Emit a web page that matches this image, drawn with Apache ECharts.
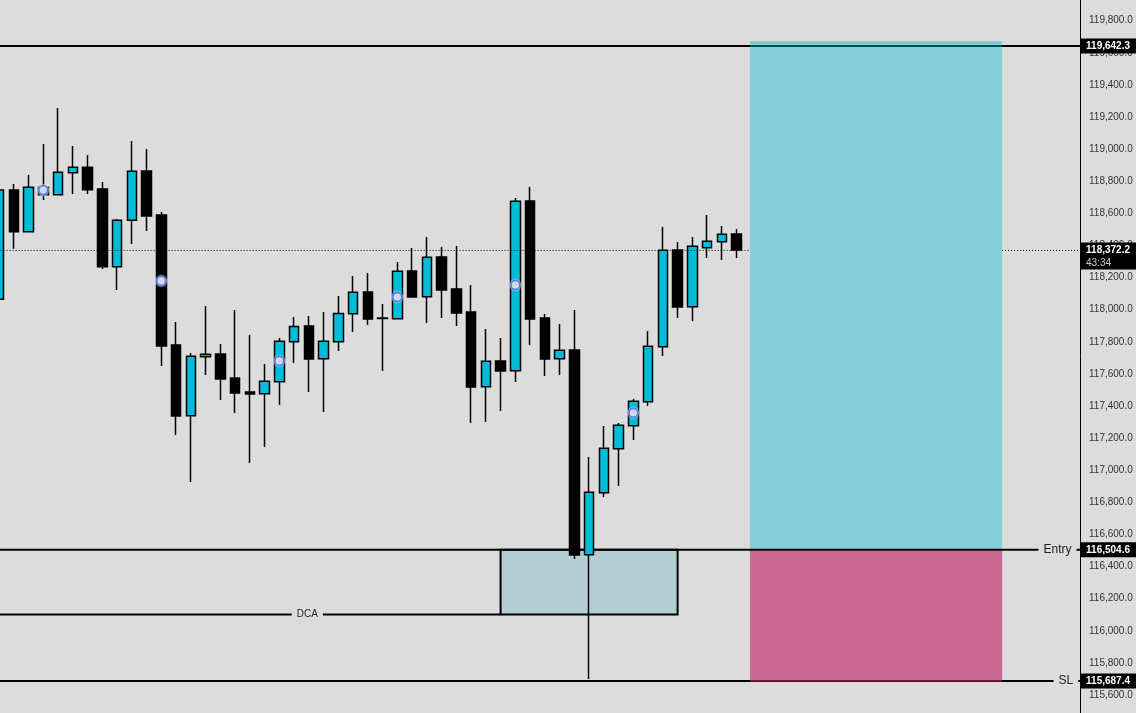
<!DOCTYPE html>
<html>
<head>
<meta charset="utf-8">
<title>BTC long setup</title>
<style>
html, body { margin: 0; padding: 0; background: #dcdcdc; overflow: hidden; }
#chart { width: 1136px; height: 713px; }
</style>
<script src="https://cdn.jsdelivr.net/npm/echarts@6/dist/echarts.min.js"></script>
</head>
<body>
<div id="chart"></div>
<script>
var opens = [118065, 118745, 118486, 118716, 118716, 118853, 118887, 118752, 118268, 118557, 118864, 118590, 117780, 117340, 117707, 117724, 117575, 117487, 117477, 117551, 117801, 117898, 117695, 117801, 117975, 118110, 117948, 117944, 118241, 118081, 118328, 118129, 117986, 117520, 117680, 117620, 118677, 117948, 117695, 117749, 116474, 116860, 117134, 117277, 117427, 117769, 118372, 118019, 118386, 118423, 118471];
var closes = [118745, 118486, 118762, 118762, 118856, 118887, 118747, 118268, 118557, 118862, 118583, 117774, 117338, 117710, 117722, 117568, 117481, 117475, 117554, 117803, 117896, 117693, 117803, 117977, 118108, 117942, 117945, 118239, 118079, 118326, 118123, 117979, 117518, 117679, 117618, 118675, 117942, 117693, 117747, 116472, 116863, 117137, 117280, 117429, 117772, 118370, 118017, 118395, 118426, 118470, 118372];
var lows = [118065, 118380, 118486, 118683, 118716, 118720, 118720, 118253, 118123, 118409, 118490, 117649, 117220, 116927, 117593, 117438, 117357, 117045, 117145, 117406, 117668, 117487, 117363, 117743, 117861, 117905, 117618, 117944, 118079, 117917, 117948, 117898, 117294, 117300, 117369, 117550, 117780, 117587, 117593, 116447, 115700, 116833, 116902, 117188, 117400, 117712, 117948, 117930, 118322, 118310, 118322];
var highs = [118745, 118783, 118839, 119032, 119256, 119020, 118963, 118795, 118565, 119051, 119001, 118608, 117923, 117730, 118023, 117786, 117998, 117842, 117662, 117824, 117954, 117961, 117986, 118085, 118210, 118229, 118035, 118297, 118384, 118453, 118390, 118397, 118154, 117880, 117824, 118696, 118764, 117973, 117911, 117998, 117082, 117276, 117294, 117444, 117867, 118515, 118422, 118453, 118590, 118521, 118503];

var markerBars = [3, 11, 19, 27, 35, 43];
var markerPrices = [118745, 118179, 117681, 118079, 118154, 117358];

var targetPrice = 119642.3;
var entryPrice = 116504.6;
var stopPrice = 115687.4;
var dcaPrice = 116101;
var lastPrice = 118372.2;
var lastLinePrice = 118369;
var countdown = '43:34';
var zoneTopPrice = 119667;
var zoneBottomPrice = 115682;

// bar positions of the drawn objects, in bars from the first candle
var barCount = 74;
var axisBar = 73.28;
var zoneFrom = 50.9, zoneTo = 68;
var boxFrom = 34, boxTo = 46;
var dcaLabelBar = 20.9, entryLabelBar = 71.75, slLabelBar = 72.32;

var categories = [];
for (var i = 0; i < barCount; i++) {
    categories.push(String(i));
}

var candles = [];
for (var i = 0; i < opens.length; i++) {
    candles.push([opens[i], closes[i], lows[i], highs[i]]);
}

var markers = [];
for (var i = 0; i < markerBars.length; i++) {
    markers.push([categories[markerBars[i]], markerPrices[i]]);
}

function fmt(v) {
    return v.toLocaleString('en-US', {minimumFractionDigits: 1, maximumFractionDigits: 1});
}

function level(name, price, from, to, z, type, width, color) {
    return {
        name: name,
        type: 'line',
        xAxisIndex: 1,
        yAxisIndex: 0,
        z: z,
        silent: true,
        symbol: 'none',
        data: [[from, price], [to, price]],
        lineStyle: {color: color || '#000', width: width === undefined ? 2 : width, type: type || 'solid', cap: 'butt'}
    };
}

function zone(name, top, bottom, from, to, z, style) {
    return {
        name: name,
        type: 'line',
        xAxisIndex: 1,
        yAxisIndex: 0,
        data: [],
        markArea: {
            silent: true,
            z: z,
            itemStyle: style,
            data: [[{coord: [from, top]}, {coord: [to, bottom]}]]
        }
    };
}

function textTag(text, bar, price, size) {
    return {
        value: [bar, price],
        label: {
            show: true,
            position: 'inside',
            formatter: text,
            color: '#222',
            fontSize: size,
            fontFamily: 'Liberation Sans',
            backgroundColor: '#dcdcdc',
            padding: [1, 5, 1, 5]
        }
    };
}

function priceTag(price) {
    return {
        value: [axisBar, price],
        label: {
            show: true,
            position: 'right',
            distance: 0,
            formatter: fmt(price),
            color: '#fff',
            fontWeight: 'bold',
            fontSize: 10,
            lineHeight: 11,
            fontFamily: 'Liberation Sans',
            backgroundColor: '#000',
            padding: [2, 6, 2, 6]
        }
    };
}

var myChart = echarts.init(document.getElementById('chart'), null, {renderer: 'canvas'});
myChart.setOption({
    animation: false,
    backgroundColor: '#dcdcdc',
    textStyle: {fontFamily: 'Liberation Sans'},
    grid: {left: -8.376, top: -11.4, width: 1091.68, height: 738.5, containLabel: false, outerBoundsMode: 'none'},
    xAxis: [{
            type: 'category',
            data: categories,
            show: false
        }, {
            type: 'value',
            min: -0.5,
            max: barCount - 0.5,
            show: false
        }],
    yAxis: [{
            type: 'value',
            position: 'right',
            offset: -3.3,
            min: 115400,
            max: 120000,
            interval: 200,
            splitLine: {show: false},
            axisTick: {show: false},
            axisLine: {show: true, onZero: false, lineStyle: {color: '#000', width: 1}},
            axisLabel: {
                margin: 9,
                color: '#333',
                fontSize: 10,
                fontFamily: 'Liberation Sans',
                formatter: function (v) {
                    return fmt(v);
                }
            }
        }],
    series: [
        level('Target', targetPrice, -0.5, axisBar, 1),
        level('SL', stopPrice, -0.5, axisBar, 1),
        zone('Long', zoneTopPrice, entryPrice, zoneFrom, zoneTo, 2, {color: 'rgba(0,188,212,0.39)'}),
        zone('Risk', entryPrice, zoneBottomPrice, zoneFrom, zoneTo, 2, {color: 'rgba(192,30,98,0.6)'}),
        level('Long edge', zoneTopPrice, zoneFrom, zoneTo, 3, 'solid', 1, '#5cc5d2'),
        zone('DCA box', entryPrice, dcaPrice, boxFrom, boxTo, 3, {color: '#b5ced3', borderColor: '#000', borderWidth: 2}),
        level('Entry', entryPrice, -0.5, axisBar, 3),
        level('DCA', dcaPrice, -0.5, boxFrom, 3),
        {
            name: 'Price',
            type: 'candlestick',
            xAxisIndex: 0,
            yAxisIndex: 0,
            z: 4,
            silent: true,
            barWidth: 10,
            data: candles,
            itemStyle: {
                color: '#00bcd8',
                color0: '#000',
                borderColor: '#000',
                borderColor0: '#000',
                borderWidth: 1.5
            }
        },
        level('Last left', lastLinePrice, -0.5, zoneFrom, 5, [1, 2], 1),
        level('Last right', lastLinePrice, zoneTo, axisBar, 5, [1, 2], 1),
        {
            name: 'Markers',
            type: 'scatter',
            xAxisIndex: 0,
            yAxisIndex: 0,
            z: 6,
            silent: true,
            symbolSize: 9,
            data: markers,
            itemStyle: {
                opacity: 1,
                color: '#cfd8ea',
                borderColor: '#5b7ee5',
                borderWidth: 1.8,
                shadowBlur: 2,
                shadowColor: '#e8e8e8'
            }
        },
        {
            name: 'Tags',
            type: 'scatter',
            xAxisIndex: 1,
            yAxisIndex: 0,
            z: 7,
            silent: true,
            symbolSize: 0,
            itemStyle: {opacity: 1},
            data: [
                textTag('DCA', dcaLabelBar, dcaPrice, 10),
                textTag('Entry', entryLabelBar, entryPrice, 12),
                textTag('SL', slLabelBar, stopPrice, 12),
                priceTag(targetPrice),
                priceTag(entryPrice),
                priceTag(stopPrice),
                {
                    value: [axisBar, lastPrice],
                    label: {
                        show: true,
                        position: 'right',
                        distance: 0,
                        offset: [0, 6],
                        formatter: '{a|' + fmt(lastPrice) + '}\n{b|' + countdown + '}',
                        backgroundColor: '#000',
                        padding: [1, 6, 0, 6],
                        rich: {
                            a: {color: '#fff', fontWeight: 'bold', fontSize: 10, lineHeight: 13, fontFamily: 'Liberation Sans'},
                            b: {color: '#ccc', fontSize: 10, lineHeight: 13, fontFamily: 'Liberation Sans'}
                        }
                    }
                }
            ]
        }
    ]
});
</script>
</body>
</html>
